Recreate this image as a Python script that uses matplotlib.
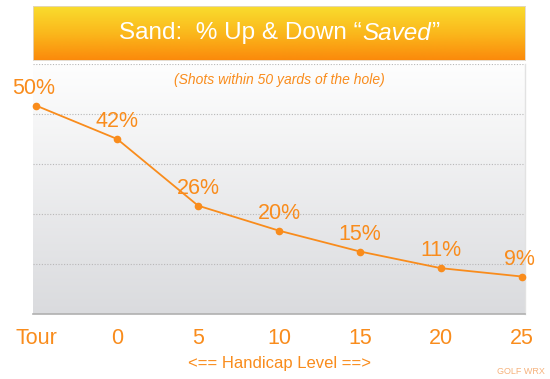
import matplotlib
matplotlib.use("Agg")
import matplotlib.pyplot as plt
import numpy as np
from matplotlib.colors import LinearSegmentedColormap

categories = ["Tour", "0", "5", "10", "15", "20", "25"]
values = [50, 42, 26, 20, 15, 11, 9]
labels = ["50%", "42%", "26%", "20%", "15%", "11%", "9%"]
title_main = "Sand:  % Up & Down \u201c"
title_italic = "Saved"
subtitle = "(Shots within 50 yards of the hole)"
xlabel = "<== Handicap Level ==>"
credit = "GOLF WRX"

ORANGE = "#f98c1c"
FONT = "Liberation Sans"
plt.rcParams['font.family'] = [FONT, 'DejaVu Sans']

fig = plt.figure(figsize=(5.5, 3.79), dpi=100)
fig.patch.set_facecolor("white")

# main axes
ax = fig.add_axes([33/550, 1-314/379, (525-33)/550, (314-64)/379])
x = np.arange(len(categories))
ax.set_xlim(-0.04, len(categories) - 1 + 0.04)
ax.set_ylim(0, 60)

# gradient background
grad = np.linspace(0, 1, 256).reshape(-1, 1)
bg_cmap = LinearSegmentedColormap.from_list("bg", ["#dadbde", "#fefefe"])
ax.imshow(grad, cmap=bg_cmap, aspect="auto", origin="lower",
          extent=(ax.get_xlim()[0], ax.get_xlim()[1], 0, 60), zorder=0)

for yv in [12, 24, 36, 48, 60]:
    ax.axhline(yv, color="#b8b8b8", lw=0.8, ls=(0, (1, 1.5)), zorder=1)

ax.plot(x, values, color=ORANGE, lw=1.3, marker="o", markersize=4.5, zorder=3,
        clip_on=False)
for xi, v, lab in zip(x, values, labels):
    dx = -2 if xi == 0 else (-2 if xi == len(x) - 1 else 0)
    ax.annotate(lab, (xi, v), xytext=(dx, 5),
                textcoords="offset points", ha="center", va="bottom",
                color=ORANGE, fontsize=15.5, zorder=4)

for s in ["top", "left"]:
    ax.spines[s].set_visible(False)
ax.spines["right"].set_color("#e2e2e2")
ax.spines["right"].set_linewidth(1)
ax.spines["bottom"].set_color("#b0b0b0")
ax.spines["bottom"].set_linewidth(1.2)
ax.set_yticks([])
ax.set_xticks(x)
ax.set_xticklabels(categories, color=ORANGE, fontsize=15.5)
ax.tick_params(axis="x", length=0, pad=10)
ax.set_xlabel(xlabel, color=ORANGE, fontsize=12, labelpad=5)

ax.text(0.5, 0.935, subtitle, transform=ax.transAxes, ha="center", va="center",
        color=ORANGE, fontsize=10, style="italic", zorder=4)

# title banner
bax = fig.add_axes([33/550, 1-60/379, (525-33)/550, (60-6)/379])
ban_cmap = LinearSegmentedColormap.from_list("ban", ["#fb8a0b", "#fbb81c", "#f9dd2e"])
bax.imshow(grad, cmap=ban_cmap, aspect="auto", origin="lower", extent=(0, 1, 0, 1))
bax.set_xlim(0, 1)
bax.set_ylim(0, 1)
bax.set_xticks([])
bax.set_yticks([])
for s in bax.spines.values():
    s.set_color("#e0d6c8")
    s.set_linewidth(0.6)
t1 = bax.text(0.0, 0.5, title_main, color="white", fontsize=17.5, va="center", ha="left")
t2 = bax.text(0.0, 0.5, title_italic, color="white", fontsize=17.5, va="center", ha="left", style="italic")
t3 = bax.text(0.0, 0.5, "\u201d", color="white", fontsize=17.5, va="center", ha="left")
fig.canvas.draw()
r = fig.canvas.get_renderer()
w1 = t1.get_window_extent(r).width
w2 = t2.get_window_extent(r).width
w3 = t3.get_window_extent(r).width
bw = bax.get_window_extent(r)
total = w1 + w2 + w3
start = bw.x0 + (bw.width - total) / 2
t1.set_x((start - bw.x0) / bw.width)
t2.set_x((start + w1 - bw.x0) / bw.width)
t3.set_x((start + w1 + w2 - bw.x0) / bw.width)

fig.text(545/550, 1-372/379, credit, color="#f6b27c", fontsize=6.5, ha="right", va="center")

fig.savefig("out.png", dpi=100, facecolor="white")
